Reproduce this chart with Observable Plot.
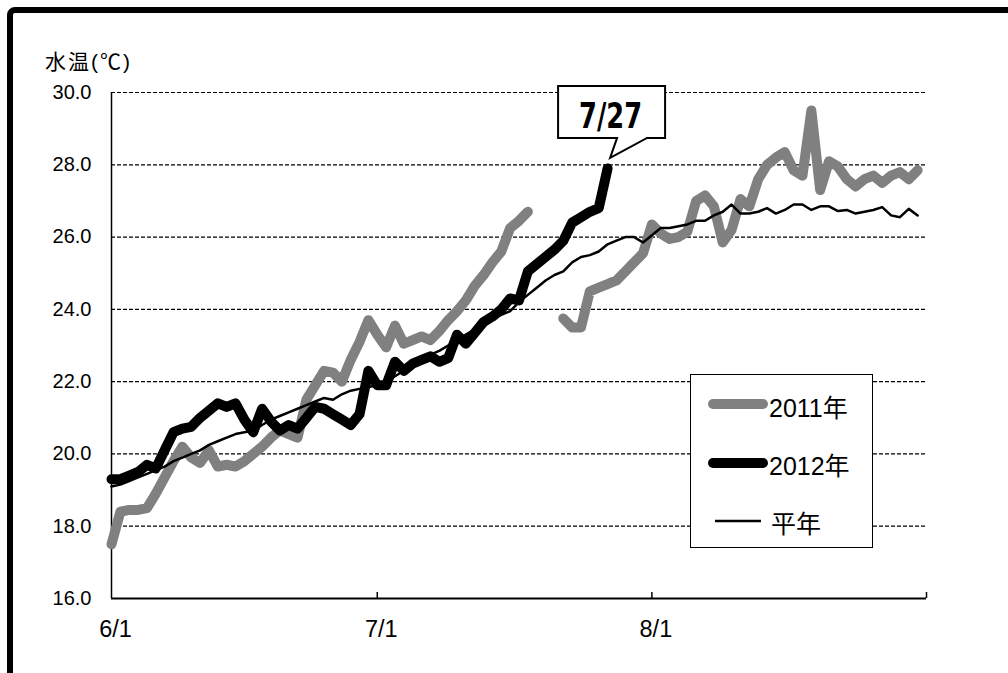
<!DOCTYPE html>
<html>
<head>
<meta charset="utf-8">
<script src="https://cdn.jsdelivr.net/npm/d3@7"></script>
<script src="https://cdn.jsdelivr.net/npm/@observablehq/plot@0.6"></script>
<style>
html,body{margin:0;padding:0;width:1008px;height:673px;overflow:hidden;background:#fff;color:#000;}
#wrap{position:relative;width:1008px;height:673px;overflow:hidden;}
#chart{position:absolute;left:0;top:0;}
#frame{position:absolute;left:7px;top:7px;width:1100px;height:800px;border:6px solid #000;border-radius:8px;box-sizing:border-box;pointer-events:none;}
#title{position:absolute;left:45px;top:50px;font-family:"Liberation Sans","Noto Sans CJK JP",sans-serif;font-size:21px;letter-spacing:2px;white-space:nowrap;line-height:24px;}
#legend{position:absolute;left:690px;top:374px;width:183px;height:174px;border:1.5px solid #000;box-sizing:border-box;background:#fff;}
</style>
</head>
<body>
<div id="wrap">
  <div id="chart"></div>
  <div id="title">水温(℃)</div>
  <div id="legend"></div>
  <div id="frame"></div>
</div>
<script>
// ---- data (daily water temperature, 6/1 .. 8/31) ----
const seriesNames = ["2011年", "2012年", "平年"];
const yTicks = [16, 18, 20, 22, 24, 26, 28, 30];
const xLabelDates = ["2012-06-01", "2012-07-01", "2012-08-01"];
const xTickDates = ["2012-07-01", "2012-08-01", "2012-09-01"];

const temp2011 = [
  17.5, 18.4, 18.45, 18.45, 18.5, 18.9, 19.35, 19.8, 20.2, 19.9,
  19.75, 20.1, 19.65, 19.7, 19.65, 19.8, 20.0, 20.2, 20.45, 20.65,
  20.55, 20.45, 21.5, 21.9, 22.3, 22.25, 22.0, 22.6, 23.1, 23.7,
  23.3, 22.95, 23.55, 23.05, 23.15, 23.25, 23.15, 23.4, 23.7, 23.95,
  24.25, 24.65, 24.95, 25.3, 25.6, 26.25, 26.45, 26.7,
  null, null, null,
  23.75, 23.5, 23.5, 24.5, 24.6, 24.7, 24.8, 25.05, 25.3, 25.55,
  26.35, 26.1, 25.95, 26.0, 26.15, 27.0, 27.15, 26.85, 25.85, 26.2,
  27.05, 26.85, 27.6, 28.0, 28.2, 28.35, 27.85, 27.7, 29.5, 27.3,
  28.1, 27.95, 27.6, 27.4, 27.6, 27.7, 27.5, 27.7, 27.8, 27.6,
  27.85
];
const temp2012 = [
  19.3, 19.3, 19.4, 19.5, 19.7, 19.6, 20.1, 20.6, 20.7, 20.75,
  21.0, 21.2, 21.4, 21.3, 21.4, 20.95, 20.6, 21.25, 20.9, 20.65,
  20.8, 20.7, 21.0, 21.3, 21.25, 21.1, 20.95, 20.8, 21.1, 22.3,
  21.9, 21.9, 22.55, 22.3, 22.5, 22.6, 22.7, 22.55, 22.65, 23.3,
  23.05, 23.35, 23.65, 23.8, 24.0, 24.3, 24.25, 25.05, 25.25, 25.45,
  25.65, 25.9, 26.4, 26.55, 26.7, 26.8, 27.9
];
const tempNormal = [
  19.1, 19.15, 19.25, 19.35, 19.45, 19.55, 19.65, 19.8, 19.9, 20.0,
  20.1, 20.25, 20.35, 20.45, 20.55, 20.6, 20.65, 20.8, 20.95, 21.05,
  21.15, 21.25, 21.35, 21.45, 21.55, 21.5, 21.65, 21.75, 21.8, 21.85,
  21.9, 22.0, 22.15, 22.3, 22.45, 22.6, 22.75, 22.85, 23.0, 23.15,
  23.3, 23.45, 23.6, 23.75, 23.85, 23.95, 24.2, 24.4, 24.6, 24.8,
  24.95, 25.05, 25.3, 25.45, 25.5, 25.6, 25.8, 25.9, 26.0, 26.0,
  25.85, 26.05, 26.25, 26.25, 26.3, 26.35, 26.45, 26.45, 26.6, 26.7,
  26.9, 26.65, 26.65, 26.7, 26.8, 26.65, 26.75, 26.9, 26.9, 26.75,
  26.85, 26.85, 26.72, 26.75, 26.65, 26.7, 26.75, 26.83, 26.6, 26.55,
  26.78, 26.6
];

const FONT = '"Liberation Sans", Arial, "Noto Sans CJK JP", sans-serif';
const startDate = new Date(Date.UTC(2012, 5, 1));
const endDate = new Date(Date.UTC(2012, 8, 1));
const dates = d3.utcDay.range(startDate, endDate);
const toRows = arr => arr.map((v, i) => ({date: dates[i], v}));
const rows2011 = toRows(temp2011), rows2012 = toRows(temp2012), rowsNormal = toRows(tempNormal);
const parse = s => new Date(s + "T00:00:00Z");
const md = d => `${d.getUTCMonth() + 1}/${d.getUTCDate()}`;

const plot = Plot.plot({
  width: 1008,
  height: 673,
  marginLeft: 111,
  marginRight: 82,
  marginTop: 92,
  marginBottom: 75,
  style: {fontFamily: FONT, background: "transparent", overflow: "visible", color: "#000"},
  x: {type: "utc", domain: [startDate, endDate]},
  y: {domain: [16, 30]},
  marks: [
    Plot.ruleY(yTicks.filter(t => t > 16), {stroke: "#000", strokeWidth: 1.2, strokeDasharray: "4,2"}),
    Plot.ruleX([startDate], {stroke: "#000", strokeWidth: 1.5}),
    Plot.ruleY([16], {stroke: "#000", strokeWidth: 2}),
    Plot.ruleX(xTickDates.map(parse), {y1: 16, y2: 16, insetTop: -6, stroke: "#000", strokeWidth: 1.5}),
    Plot.axisY({ticks: yTicks, tickFormat: d3.format(".1f"), tickSize: 0, tickPadding: 20, fontSize: 20, label: null}),
    Plot.axisX({ticks: xLabelDates.map(parse), tickFormat: md, tickSize: 0, tickPadding: 22, fontSize: 23.5, dx: 4, label: null}),
    Plot.line(rows2011, {x: "date", y: "v", stroke: "#808080", strokeWidth: 10, strokeLinejoin: "round", strokeLinecap: "round"}),
    Plot.line(rows2012, {x: "date", y: "v", stroke: "#000", strokeWidth: 10, strokeLinejoin: "round", strokeLinecap: "round"}),
    Plot.line(rowsNormal, {x: "date", y: "v", stroke: "#000", strokeWidth: 2.5, strokeLinejoin: "round"})
  ]
});
document.getElementById("chart").appendChild(plot);

// ---- callout at the last 2012 observation ----
const sx = plot.scale("x"), sy = plot.scale("y");
const last = temp2012.length - 1;
const px = sx.apply(dates[last]), py = sy.apply(temp2012[last]);
const svg = d3.select(plot);
const g = svg.append("g");
g.append("path")
  .attr("d", `M${px - 49},${py - 82}H${px + 58}V${py - 30}H${px + 40}L${px + 3},${py - 10}L${px + 10},${py - 30}H${px - 49}Z`)
  .attr("fill", "#fff").attr("stroke", "#000").attr("stroke-width", 2).attr("stroke-linejoin", "miter");
g.append("text")
  .attr("x", px + 3.5).attr("y", py - 40)
  .attr("text-anchor", "middle")
  .attr("font-family", '"DejaVu Sans Condensed", "DejaVu Sans", "Liberation Sans", sans-serif')
  .attr("font-weight", "bold").attr("font-size", 36)
  .attr("textLength", 63).attr("lengthAdjust", "spacingAndGlyphs")
  .attr("fill", "#000")
  .text(md(dates[last]));

// ---- legend ----
const legendItems = [
  {name: seriesNames[0], color: "#808080", width: 10, x1: 22, x2: 72, y: 29, tx: 78, ty: 33},
  {name: seriesNames[1], color: "#000", width: 10, x1: 22, x2: 72, y: 88, tx: 78, ty: 91},
  {name: seriesNames[2], color: "#000", width: 2.5, x1: 24, x2: 70, y: 146, tx: 80, ty: 149}
];
const lsvg = d3.select("#legend").append("svg").attr("width", 180).attr("height", 171)
  .style("position", "absolute").style("left", 0).style("top", 0);
for (const it of legendItems) {
  lsvg.append("line").attr("x1", it.x1).attr("x2", it.x2).attr("y1", it.y).attr("y2", it.y)
    .attr("stroke", it.color).attr("stroke-width", it.width).attr("stroke-linecap", it.width > 5 ? "round" : "butt");
  lsvg.append("text").attr("x", it.tx).attr("y", it.ty).attr("dy", "0.35em")
    .attr("font-family", FONT).attr("font-size", 25).attr("fill", "#000").text(it.name);
}
</script>
</body>
</html>
